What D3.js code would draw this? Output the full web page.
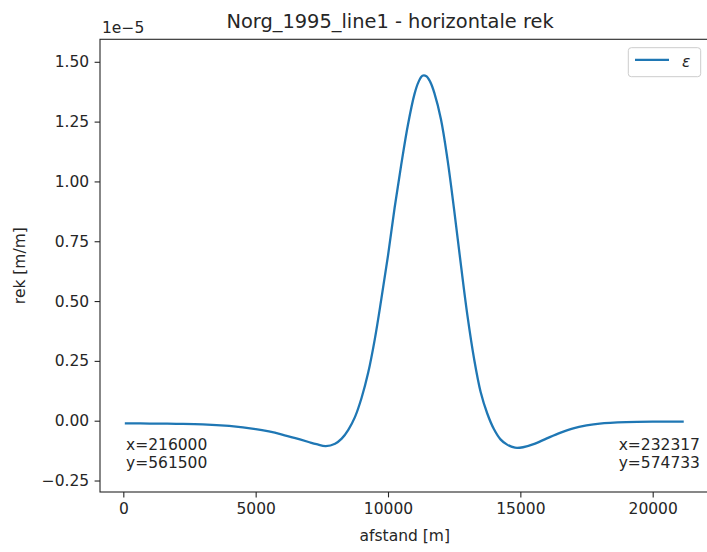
<!DOCTYPE html>
<html>
<head>
<meta charset="utf-8">
<script src="https://cdn.jsdelivr.net/npm/d3@7"></script>
<style>
  html, body { margin: 0; padding: 0; background: #fff; }
  svg { display: block; font-family: "DejaVu Sans", sans-serif; }
</style>
</head>
<body>
<svg id="chart" width="707" height="552"></svg>
<script>
// ---- data (strain in units of 1e-5, distance in m) ----
const distance = [100, 1000, 2000, 3000, 4000, 5000, 5500, 6000, 6500, 7000, 7300, 7650, 8000, 8250, 8500, 8750, 9000, 9250, 9500, 9750, 10000, 10250, 10500, 10750, 11000, 11150, 11300, 11450, 11600, 11750, 12000, 12250, 12500, 12750, 13000, 13250, 13500, 13750, 14000, 14250, 14500, 14800, 15100, 15500, 16000, 16500, 17000, 17500, 18000, 19000, 20000, 21130];
const strain = [-0.011, -0.012, -0.013, -0.015, -0.022, -0.035, -0.045, -0.058, -0.073, -0.089, -0.098, -0.106, -0.096, -0.075, -0.038, 0.015, 0.095, 0.20, 0.34, 0.51, 0.69, 0.89, 1.07, 1.235, 1.365, 1.415, 1.442, 1.440, 1.415, 1.37, 1.26, 1.09, 0.88, 0.655, 0.44, 0.26, 0.12, 0.03, -0.035, -0.078, -0.100, -0.113, -0.111, -0.098, -0.074, -0.051, -0.032, -0.020, -0.012, -0.006, -0.004, -0.004];
const xTicks = [0, 5000, 10000, 15000, 20000];
const yTicks = [-0.25, 0, 0.25, 0.5, 0.75, 1.0, 1.25, 1.5];
const title = "Norg_1995_line1 - horizontale rek";
const xLabel = "afstand [m]";
const yLabel = "rek [m/m]";
const offsetText = "1e\u22125";
const legendLabel = "\u03b5";
const noteLeft = ["x=216000", "y=561500"];
const noteRight = ["x=232317", "y=574733"];

const svg = d3.select("#chart");
const mL = 100, mR = 709.6, mT = 39.3, mB = 492;

const x = d3.scaleLinear().domain([-881, 22150]).range([mL, mR]);
const y = d3.scaleLinear().domain([-0.298, 1.594]).range([mB, mT]);

const ink = "#262626";
const fs = 15.5;

svg.append("defs").append("clipPath").attr("id", "clip")
  .append("rect").attr("x", mL).attr("y", mT).attr("width", mR - mL).attr("height", mB - mT);

// line
const pts = distance.map((d, i) => [d, strain[i]]);
const line = d3.line().x(d => x(d[0])).y(d => y(d[1])).curve(d3.curveCatmullRom.alpha(0.5));
svg.append("path").datum(pts)
  .attr("d", line).attr("fill", "none")
  .attr("stroke", "#1f77b4").attr("stroke-width", 2.3)
  .attr("stroke-linejoin", "round").attr("stroke-linecap", "square")
  .attr("clip-path", "url(#clip)");

// axes
const fmtY = d => d3.format(".2f")(d).replace("-", "\u2212");
const xAxis = d3.axisBottom(x).tickValues(xTicks).tickFormat(d3.format("d")).tickSizeOuter(0).tickSize(5.4).tickPadding(5.4);
const yAxis = d3.axisLeft(y).tickValues(yTicks).tickFormat(fmtY).tickSizeOuter(0).tickSize(5.4).tickPadding(5.4);

const gx = svg.append("g").attr("transform", `translate(0,${mB})`).call(xAxis);
const gy = svg.append("g").attr("transform", `translate(${mL},0)`).call(yAxis);
[gx, gy].forEach(g => {
  g.select(".domain").remove();
  g.selectAll("line").attr("stroke", ink).attr("stroke-width", 1.1);
  g.selectAll("text").attr("fill", ink).style("font-size", fs + "px").style("font-family", "DejaVu Sans");
});

// spines
svg.append("rect").attr("x", mL).attr("y", mT).attr("width", mR - mL).attr("height", mB - mT)
  .attr("fill", "none").attr("stroke", ink).attr("stroke-width", 1.1);

// title
svg.append("text").attr("x", 390).attr("y", 28).attr("text-anchor", "middle")
  .attr("fill", ink).style("font-size", "19.4px").text(title);

// offset text
svg.append("text").attr("x", 102).attr("y", 32.5).attr("fill", ink).style("font-size", fs + "px").text(offsetText);

// axis labels
svg.append("text").attr("x", (mL + mR) / 2).attr("y", 541).attr("text-anchor", "middle")
  .attr("fill", ink).style("font-size", fs + "px").text(xLabel);
svg.append("text").attr("transform", `translate(25,${(mT + mB) / 2}) rotate(-90)`).attr("text-anchor", "middle")
  .attr("fill", ink).style("font-size", fs + "px").text(yLabel);

// annotations
noteLeft.forEach((t, i) => svg.append("text").attr("x", 126).attr("y", 450 + i * 18.3)
  .attr("fill", ink).style("font-size", fs + "px").text(t));
noteRight.forEach((t, i) => svg.append("text").attr("x", 700).attr("y", 450 + i * 18.3).attr("text-anchor", "end")
  .attr("fill", ink).style("font-size", fs + "px").text(t));

// legend
const lg = svg.append("g");
lg.append("rect").attr("x", 628.3).attr("y", 47.7).attr("width", 72.4).attr("height", 29)
  .attr("rx", 3).attr("fill", "#fff").attr("fill-opacity", 0.8).attr("stroke", "#cccccc").attr("stroke-width", 1);
lg.append("line").attr("x1", 635).attr("x2", 669).attr("y1", 59.8).attr("y2", 59.8)
  .attr("stroke", "#1f77b4").attr("stroke-width", 2.3);
lg.append("text").attr("x", 682).attr("y", 66.5).attr("fill", ink).style("font-size", fs + "px")
  .style("font-style", "italic").text(legendLabel);
</script>
</body>
</html>
